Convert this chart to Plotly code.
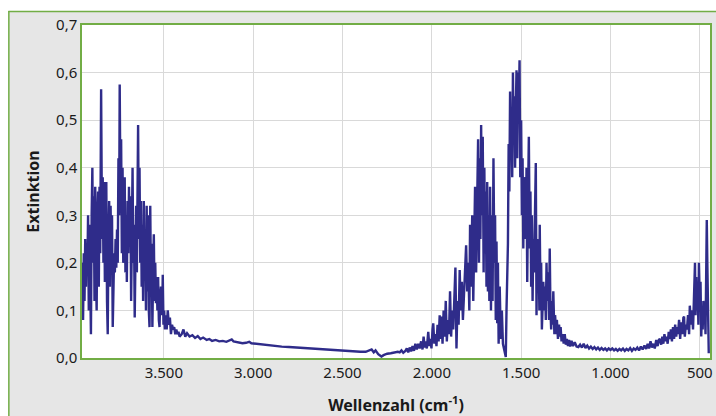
import plotly.graph_objects as go

# Wavenumbers (cm^-1) and extinction values
wn_left = [3956, 3952, 3948, 3944, 3940, 3936, 3932, 3928, 3924, 3920, 3916, 3912, 3908, 3904, 3900,
           3896, 3892, 3888, 3884, 3880, 3876, 3872, 3868, 3864, 3860, 3856, 3851, 3846, 3842, 3838,
           3834, 3830, 3826, 3822, 3818, 3814, 3810, 3806, 3802, 3798, 3794, 3790, 3786, 3782, 3778,
           3774, 3770, 3766, 3762, 3758, 3754, 3750, 3747, 3743, 3739, 3735, 3731, 3727, 3723, 3719,
           3715, 3711, 3707, 3703, 3699, 3695, 3691, 3687, 3683, 3679, 3675, 3671, 3667, 3663, 3659,
           3655, 3651, 3647, 3644, 3640, 3636, 3632, 3628, 3624, 3620, 3616, 3612, 3608, 3604, 3600,
           3596, 3592, 3588, 3584, 3580, 3576, 3572, 3568, 3564, 3560, 3556, 3552, 3548, 3544, 3540,
           3536, 3532, 3528, 3524, 3520, 3516, 3512, 3508, 3506, 3502, 3498, 3494, 3490, 3484, 3478,
           3472, 3466, 3460, 3454, 3448, 3442, 3436, 3430, 3424, 3418, 3412]
ext_left = [0.20, 0.08, 0.22, 0.12, 0.25, 0.15, 0.24, 0.18, 0.30, 0.10, 0.28, 0.14, 0.05, 0.30, 0.40,
            0.20, 0.34, 0.12, 0.36, 0.18, 0.10, 0.30, 0.35, 0.15, 0.36, 0.22, 0.565, 0.25, 0.38, 0.20,
            0.37, 0.16, 0.30, 0.37, 0.12, 0.05, 0.25, 0.33, 0.15, 0.32, 0.20, 0.30, 0.065, 0.15, 0.22,
            0.18, 0.25, 0.19, 0.27, 0.20, 0.42, 0.30, 0.575, 0.35, 0.46, 0.22, 0.40, 0.20, 0.34, 0.38,
            0.18, 0.30, 0.16, 0.33, 0.22, 0.36, 0.25, 0.34, 0.12, 0.30, 0.40, 0.20, 0.28, 0.085, 0.25,
            0.32, 0.18, 0.40, 0.49, 0.25, 0.40, 0.20, 0.33, 0.15, 0.28, 0.12, 0.33, 0.18, 0.25, 0.10,
            0.32, 0.14, 0.30, 0.10, 0.065, 0.32, 0.15, 0.24, 0.065, 0.18, 0.26, 0.12, 0.20, 0.115, 0.17,
            0.10, 0.17, 0.08, 0.065, 0.13, 0.15, 0.09, 0.12, 0.175, 0.07, 0.10, 0.06, 0.09, 0.06, 0.10,
            0.07, 0.085, 0.05, 0.07, 0.06, 0.065, 0.05, 0.06, 0.05, 0.055, 0.045]

wn_mid1 = [3400, 3390, 3380, 3370, 3356, 3340, 3325, 3310, 3295, 3280, 3260, 3245, 3230, 3210, 3190,
           3170, 3150, 3130, 3120, 3110, 3090, 3077, 3060, 3040, 3022, 3010, 2990, 2960, 2930, 2900,
           2870, 2840, 2800, 2760, 2720, 2680, 2640, 2600, 2560, 2520, 2480, 2440, 2400, 2370, 2350,
           2337, 2325, 2315, 2300, 2290, 2282, 2270, 2250, 2230, 2210, 2190]
ext_mid1 = [0.05, 0.06, 0.045, 0.052, 0.045, 0.048, 0.042, 0.046, 0.04, 0.043, 0.038, 0.04, 0.036, 0.038, 0.035,
            0.036, 0.034, 0.037, 0.039, 0.035, 0.034, 0.032, 0.031, 0.032, 0.034, 0.031, 0.03, 0.029, 0.028, 0.027,
            0.025, 0.024, 0.023, 0.022, 0.021, 0.02, 0.018, 0.017, 0.016, 0.015, 0.014, 0.013, 0.013, 0.013, 0.016,
            0.018, 0.012, 0.016, 0.008, 0.005, 0.003, 0.006, 0.009, 0.01, 0.012, 0.013]

wn_mid2 = [2180, 2170, 2160, 2148, 2140, 2132, 2124, 2116, 2108, 2100, 2092, 2084, 2076, 2068, 2060,
           2052, 2046, 2040, 2034, 2028, 2020, 2014, 2008, 2002, 1996, 1992, 1986, 1980, 1974, 1968,
           1962, 1956, 1950, 1946, 1940, 1934, 1928, 1922, 1916, 1910, 1904, 1898, 1892, 1886, 1880,
           1874, 1868, 1862, 1856, 1850, 1844, 1838, 1832, 1826, 1820, 1814, 1808, 1802, 1796, 1790,
           1786, 1780, 1774, 1768, 1762, 1758, 1752, 1746, 1741, 1736, 1732, 1728, 1724, 1720, 1715,
           1710, 1706, 1702, 1698, 1694, 1690, 1686, 1682, 1678, 1674, 1669, 1664, 1660, 1655, 1650,
           1646, 1642, 1638, 1634, 1630, 1626, 1620, 1614, 1608, 1602, 1596, 1591, 1586, 1582, 1578,
           1574, 1570, 1566, 1562, 1558, 1554, 1550, 1546, 1542, 1538, 1534, 1530, 1526, 1522, 1518,
           1514, 1509, 1505, 1500, 1496, 1492, 1488, 1484, 1479, 1474, 1470, 1466, 1461, 1457, 1452,
           1448, 1444, 1440, 1436, 1432, 1428, 1422, 1418, 1414, 1410, 1406, 1402, 1398, 1396, 1392,
           1388, 1384, 1380, 1376, 1370, 1366, 1362, 1358, 1354, 1348, 1344, 1340, 1336, 1332, 1328,
           1324, 1320, 1314, 1310, 1304, 1300, 1294, 1288, 1282, 1279, 1274, 1268, 1262, 1256, 1250,
           1244, 1238, 1232, 1226, 1218, 1210, 1200, 1190, 1180]
ext_mid2 = [0.012, 0.016, 0.011, 0.015, 0.02, 0.012, 0.022, 0.014, 0.025, 0.015, 0.03, 0.018, 0.03, 0.02, 0.035,
            0.018, 0.045, 0.022, 0.035, 0.02, 0.055, 0.025, 0.04, 0.02, 0.06, 0.073, 0.03, 0.05, 0.025, 0.07,
            0.035, 0.09, 0.04, 0.087, 0.03, 0.10, 0.045, 0.12, 0.035, 0.08, 0.05, 0.14, 0.045, 0.10, 0.06,
            0.15, 0.19, 0.02, 0.12, 0.07, 0.185, 0.10, 0.16, 0.08, 0.13, 0.20, 0.237, 0.14, 0.20, 0.10,
            0.28, 0.15, 0.30, 0.12, 0.25, 0.36, 0.18, 0.30, 0.46, 0.20, 0.42, 0.25, 0.49, 0.30, 0.465,
            0.18, 0.40, 0.22, 0.35, 0.15, 0.37, 0.14, 0.30, 0.12, 0.36, 0.10, 0.30, 0.12, 0.42, 0.20,
            0.30, 0.08, 0.245, 0.073, 0.20, 0.03, 0.15, 0.04, 0.10, 0.03, 0.02, 0.017, 0.002, 0.10, 0.18,
            0.24, 0.45, 0.35, 0.56, 0.44, 0.50, 0.38, 0.60, 0.45, 0.55, 0.40, 0.52, 0.605, 0.42, 0.60,
            0.50, 0.626, 0.38, 0.50, 0.30, 0.42, 0.23, 0.38, 0.37, 0.25, 0.40, 0.16, 0.35, 0.465, 0.23,
            0.35, 0.15, 0.30, 0.12, 0.25, 0.18, 0.30, 0.41, 0.09, 0.25, 0.15, 0.22, 0.10, 0.28, 0.14,
            0.20, 0.06, 0.14, 0.16, 0.10, 0.15, 0.08, 0.20, 0.12, 0.18, 0.08, 0.23, 0.10, 0.06, 0.12,
            0.07, 0.14, 0.05, 0.09, 0.05, 0.08, 0.04, 0.07, 0.045, 0.065, 0.035, 0.05, 0.03, 0.05, 0.028,
            0.04, 0.025, 0.038, 0.024, 0.036, 0.025, 0.033, 0.024, 0.023]

wn_right1 = [1170, 1160, 1150, 1140, 1130, 1120, 1110, 1100, 1090, 1080, 1070, 1060, 1050, 1040, 1030,
             1020, 1010, 1000, 990, 980, 970, 960, 950, 940, 930, 920, 910, 900, 890, 880,
             870, 860, 850, 840, 830, 820, 810, 800]
ext_right1 = [0.028, 0.022, 0.03, 0.021, 0.026, 0.02, 0.024, 0.019, 0.023, 0.018, 0.022, 0.017, 0.021, 0.017, 0.02,
              0.016, 0.02, 0.017, 0.02, 0.016, 0.019, 0.015, 0.019, 0.016, 0.02, 0.015, 0.019, 0.016, 0.021, 0.015,
              0.02, 0.017, 0.022, 0.016, 0.024, 0.018, 0.026, 0.019]

wn_right2 = [792, 784, 776, 768, 760, 752, 744, 736, 728, 722, 716, 710, 704, 698, 692,
             686, 680, 674, 668, 662, 656, 650, 644, 638, 632, 627, 622, 616, 610, 604,
             598, 592, 588, 584, 578, 572, 566, 560, 556, 550, 544, 538, 534, 530, 527,
             524, 520, 516, 512, 508, 505, 500, 496, 492, 488, 484, 480, 476, 472, 468,
             464, 461, 458, 454, 450]
ext_right2 = [0.03, 0.02, 0.035, 0.022, 0.03, 0.02, 0.038, 0.025, 0.04, 0.038, 0.028, 0.045, 0.03, 0.05, 0.035,
              0.045, 0.03, 0.055, 0.04, 0.06, 0.035, 0.065, 0.04, 0.07, 0.045, 0.065, 0.05, 0.08, 0.04, 0.075,
              0.05, 0.085, 0.087, 0.045, 0.07, 0.06, 0.09, 0.05, 0.11, 0.07, 0.10, 0.06, 0.12, 0.15, 0.20,
              0.09, 0.17, 0.10, 0.14, 0.07, 0.20, 0.12, 0.16, 0.045, 0.10, 0.06, 0.12, 0.08, 0.10, 0.05,
              0.15, 0.29, 0.20, 0.10, 0.01]

wavenumber = wn_left + wn_mid1 + wn_mid2 + wn_right1 + wn_right2
extinction = ext_left + ext_mid1 + ext_mid2 + ext_right1 + ext_right2

x_ticks = [3500, 3000, 2500, 2000, 1500, 1000, 500]
y_ticks = [0.0, 0.1, 0.2, 0.3, 0.4, 0.5, 0.6, 0.7]

GREEN = "#72ad45"
FONT = "Noto Sans"

fig = go.Figure()
fig.add_trace(go.Scatter(x=wavenumber, y=extinction, mode="lines",
                         line=dict(color="#2f2c8a", width=2.4), showlegend=False,
                         hoverinfo="skip"))

W, H = 716, 416
L, R, T, B = 82, 3, 25, 58
pw, ph = W - L - R, H - T - B

def px_to_paper_x(px):
    return (px - L) / pw

def px_to_paper_y(py):
    return (H - B - py) / ph

fig.update_layout(
    width=W, height=H,
    margin=dict(l=L, r=R, t=T, b=B, pad=0),
    paper_bgcolor="#e6e6e6",
    plot_bgcolor="white",
    separators=",.",
    font=dict(family=FONT, size=15, color="#1a1a1a"),
    xaxis=dict(
        range=[3958, 443], tickvals=x_ticks, tickformat=",d",
        showgrid=True, gridcolor="#d9d9d9", gridwidth=1,
        showline=True, linecolor=GREEN, linewidth=1.5, mirror=True,
        ticks="", zeroline=False,
        title=dict(text="<b>Wellenzahl (cm<sup>-1</sup>)</b>", font=dict(size=16), standoff=20),
    ),
    yaxis=dict(
        range=[0, 0.7], tickvals=y_ticks, tickformat=".1f",
        showgrid=True, gridcolor="#d9d9d9", gridwidth=1,
        showline=True, linecolor=GREEN, linewidth=1.5, mirror=True,
        ticks="", zeroline=False,
        title=dict(text="<b>Extinktion</b>", font=dict(size=16), standoff=12),
    ),
    shapes=[
        dict(type="rect", xref="paper", yref="paper",
             x0=px_to_paper_x(-5), x1=px_to_paper_x(8), y0=px_to_paper_y(425), y1=px_to_paper_y(-5),
             fillcolor="white", line=dict(width=0), layer="below"),
        dict(type="rect", xref="paper", yref="paper",
             x0=px_to_paper_x(-5), x1=px_to_paper_x(725), y0=px_to_paper_y(11), y1=px_to_paper_y(-5),
             fillcolor="white", line=dict(width=0), layer="below"),
        dict(type="line", xref="paper", yref="paper",
             x0=px_to_paper_x(8.5), x1=px_to_paper_x(8.5), y0=px_to_paper_y(11), y1=px_to_paper_y(425),
             line=dict(color=GREEN, width=1.5)),
        dict(type="line", xref="paper", yref="paper",
             x0=px_to_paper_x(8), x1=px_to_paper_x(725), y0=px_to_paper_y(11.5), y1=px_to_paper_y(11.5),
             line=dict(color=GREEN, width=1.5)),
    ],
)

fig.write_html("out.html")
